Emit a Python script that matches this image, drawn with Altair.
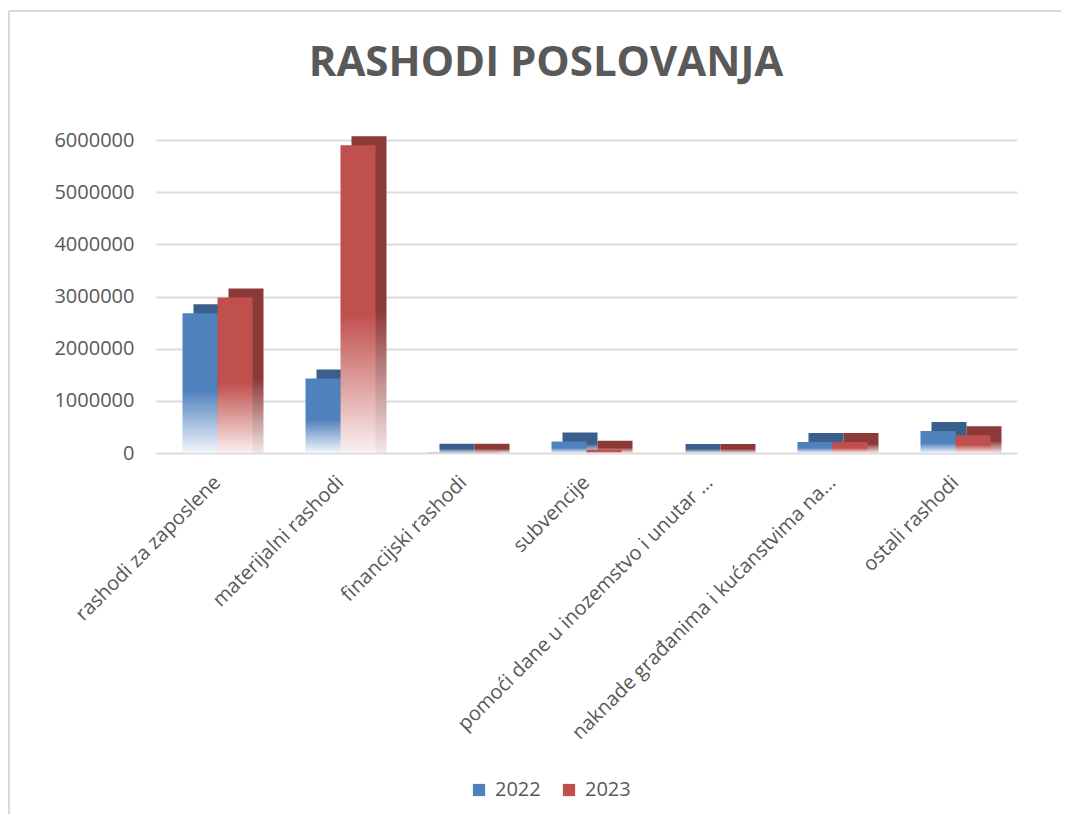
import altair as alt
import pandas as pd

title_text = "RASHODI POSLOVANJA"
categories = [
    "rashodi za zaposlene",
    "materijalni rashodi",
    "financijski rashodi",
    "subvencije",
    "pomoći dane u inozemstvo i unutar …",
    "naknade građanima i kućanstvima na…",
    "ostali rashodi",
]
years = ["2022", "2023"]
values_2022 = [2680000, 1430000, 5000, 220000, 0, 210000, 420000]
values_2023 = [2980000, 5900000, 5000, 60000, 0, 210000, 340000]
y_ticks = [0, 1000000, 2000000, 3000000, 4000000, 5000000, 6000000]

rows = []
for c, v in zip(categories, values_2022):
    rows.append({"kategorija": c, "godina": "2022", "iznos": v})
for c, v in zip(categories, values_2023):
    rows.append({"kategorija": c, "godina": "2023", "iznos": v})
df = pd.DataFrame(rows)

TEXT = "#595959"
FONT = "Open Sans"
BLUE, RED = "#4F81BD", "#C0504D"
BLUE_D, RED_D = "#3A5F8C", "#8C3A38"
BAR_W = 35


def grad(solid, light):
    return alt.LinearGradient(
        gradient="linear", x1=0, y1=0, x2=0, y2=1,
        stops=[
            alt.GradientStop(offset=0, color=solid),
            alt.GradientStop(offset=0.55, color=solid),
            alt.GradientStop(offset=1, color=light),
        ],
    )


x_enc = alt.X(
    "kategorija:N", sort=categories, title=None,
    scale=alt.Scale(paddingInner=0.43, paddingOuter=0.215),
    axis=alt.Axis(labelAngle=-45, labelFontSize=20, labelColor=TEXT, labelFont=FONT,
                  labelPadding=26, ticks=False, domain=False, labelLimit=400,
                  labelAlign="right", labelBaseline="middle", grid=False),
)
y_enc = alt.Y(
    "iznos:Q", title=None,
    scale=alt.Scale(domain=[0, 6000000]),
    axis=alt.Axis(values=y_ticks, format="d", labelFontSize=20, labelColor=TEXT,
                  labelFont=FONT, labelPadding=22, ticks=False, domain=False,
                  gridColor="#dcdcdc", gridWidth=2),
)

base = alt.Chart(df)

shadow_layers = []
front_layers = []
for yr, off, solid, dark, light, dlight in [
    ("2022", -BAR_W / 2, BLUE, BLUE_D, "#f2f6fb", "#e9eef5"),
    ("2023", BAR_W / 2, RED, RED_D, "#fbf0f0", "#f4e6e6"),
]:
    shadow_layers.append(
        base.transform_filter(alt.datum.godina == yr)
        .mark_bar(color=grad(dark, dlight), width=BAR_W, xOffset=off + 11,
                  yOffset=-9, y2Offset=0)
        .encode(x=x_enc, y=y_enc, y2=alt.datum(0))
    )
    front_layers.append(
        base.transform_filter(alt.datum.godina == yr)
        .mark_bar(color=grad(solid, light), width=BAR_W, xOffset=off)
        .encode(x=x_enc, y=y_enc)
    )

legend_layer = base.mark_square(opacity=0, size=1).encode(
    color=alt.Color(
        "godina:N", title=None,
        scale=alt.Scale(domain=years, range=[BLUE, RED]),
        legend=alt.Legend(orient="none", legendX=313, legendY=640, direction="horizontal",
                          symbolType="square", symbolSize=150, symbolOpacity=1,
                          symbolStrokeWidth=0, labelFontSize=20, labelColor=TEXT,
                          labelFont=FONT, columnPadding=18, labelOffset=6),
    )
)

title_layer = alt.Chart(pd.DataFrame({"t": [title_text]})).mark_text(
    font=FONT, fontSize=42, fontWeight="bold", color=TEXT, align="center",
    baseline="middle",
).encode(text="t:N", x=alt.value(390), y=alt.value(-77))

frame_h = base.mark_rule(color="#d9d9d9", strokeWidth=2).encode(
    x=alt.value(-147), x2=alt.value(960), y=alt.value(-129)
)
frame_v = base.mark_rule(color="#d9d9d9", strokeWidth=2).encode(
    x=alt.value(-147), y=alt.value(-129), y2=alt.value(700)
)

chart = alt.layer(
    frame_h, frame_v, *shadow_layers, *front_layers, legend_layer, title_layer
).properties(
    width=861,
    height=313,
    padding={"left": 148, "top": 132, "right": 44, "bottom": 361},
    autosize=alt.AutoSizeParams(type="none"),
).configure(background="white").configure_view(stroke=None)

chart.save("out.html", embed_options={"renderer": "svg", "actions": False})
